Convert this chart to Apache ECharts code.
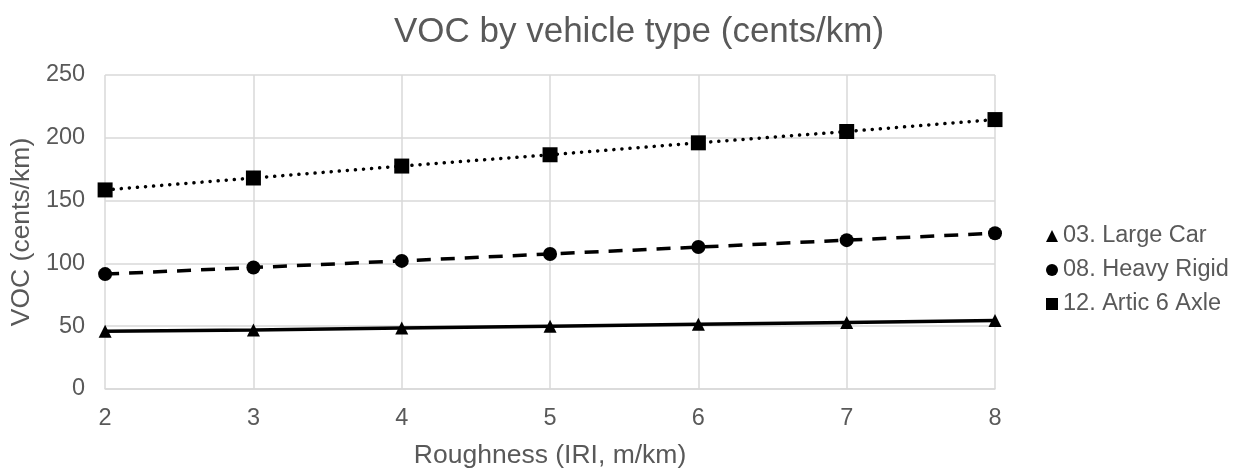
<!DOCTYPE html>
<html><head><meta charset="utf-8">
<script src="https://cdn.jsdelivr.net/npm/echarts@6/dist/echarts.min.js"></script>
<style>html,body{margin:0;padding:0;background:#fff}#c{width:1240px;height:474px}</style>
</head><body><div id="c"></div>
<script>
const roughness = [2, 3, 4, 5, 6, 7, 8];
const largeCar = [46, 47, 48.5, 50, 51.5, 53, 54.5];
const heavyRigid = [91.5, 96.7, 102, 107.5, 113, 118.5, 124];
const artic6Axle = [158.5, 168, 177.5, 186.5, 196, 205, 214.5];
const seriesNames = ['03. Large Car', '08. Heavy Rigid', '12. Artic 6 Axle'];

const font = 'Liberation Sans, Arial, sans-serif';
const txt = '#595959';
const pairs = arr => roughness.map((x, i) => [x, arr[i]]);
const chart = echarts.init(document.getElementById('c'), null, {renderer: 'canvas'});
chart.setOption({
  animation: false,
  title: {text: 'VOC by vehicle type (cents/km)', left: 634, top: 10, textAlign: 'center',
    textStyle: {fontFamily: font, fontSize: 35, fontWeight: 'normal', color: txt}},
  grid: {left: 105, right: 245, top: 75, bottom: 84},
  legend: {orient: 'vertical', left: 1041, top: 219, itemGap: 10, itemWidth: 12, itemHeight: 12,
    textStyle: {fontFamily: font, fontSize: 23.5, color: txt},
    data: [
      {name: seriesNames[0], icon: 'triangle'},
      {name: seriesNames[1], icon: 'circle'},
      {name: seriesNames[2], icon: 'rect'}
    ]},
  xAxis: {type: 'value', min: 2, max: 8, interval: 1,
    name: 'Roughness (IRI, m/km)', nameLocation: 'middle', nameGap: 53,
    nameTextStyle: {fontFamily: font, fontSize: 26.5, color: txt},
    axisLine: {show: true, lineStyle: {color: '#d9d9d9', width: 1.5}},
    axisTick: {show: false},
    axisLabel: {fontFamily: font, fontSize: 23.5, color: txt, margin: 18},
    splitLine: {show: true, lineStyle: {color: '#d9d9d9', width: 1.5}}},
  yAxis: {type: 'value', min: 0, max: 250, interval: 50,
    name: 'VOC (cents/km)', nameLocation: 'middle', nameGap: 65,
    nameTextStyle: {fontFamily: font, fontSize: 26.5, color: txt},
    axisLine: {show: false}, axisTick: {show: false},
    axisLabel: {fontFamily: font, fontSize: 23.5, color: txt, margin: 20},
    splitLine: {show: true, lineStyle: {color: '#d9d9d9', width: 1.5}}},
  series: [
    {name: seriesNames[0], type: 'line', data: pairs(largeCar), symbol: 'triangle', symbolSize: 13,
      itemStyle: {color: '#000'}, lineStyle: {color: '#000', width: 3.5, type: 'solid'}},
    {name: seriesNames[1], type: 'line', data: pairs(heavyRigid), symbol: 'circle', symbolSize: 14,
      itemStyle: {color: '#000'}, lineStyle: {color: '#000', width: 3.5, type: [14, 10], cap: 'butt'}},
    {name: seriesNames[2], type: 'line', data: pairs(artic6Axle), symbol: 'rect', symbolSize: 15,
      itemStyle: {color: '#000'}, lineStyle: {color: '#000', width: 3.5, type: [0.1, 8], cap: 'round'}}
  ]
});
</script></body></html>
